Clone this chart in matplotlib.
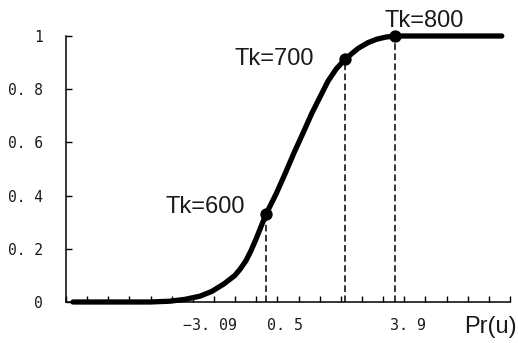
import matplotlib
matplotlib.use("Agg")
import matplotlib.pyplot as plt
from matplotlib.transforms import blended_transform_factory

# Cumulative curve, x in axis units (0..21, one minor tick per unit)
curve_x = [0.33, 3.97, 4.92, 5.63, 6.34, 6.90, 7.47, 7.99, 8.25, 8.51, 8.75,
           8.98, 9.46, 9.93, 10.35, 10.78, 11.21, 11.63, 12.01, 12.39, 12.77,
           13.19, 13.81, 14.28, 14.70, 15.13, 15.56, 20.61]
curve_y = [0.0, 0.0, 0.003, 0.01, 0.022, 0.04, 0.068, 0.10, 0.125, 0.155, 0.193,
           0.235, 0.33, 0.405, 0.48, 0.56, 0.635, 0.71, 0.77, 0.83, 0.875,
           0.912, 0.953, 0.975, 0.988, 0.996, 1.0, 1.0]

# Marked temperatures
point_labels = ["Tk=600", "Tk=700", "Tk=800"]
point_x = [9.46, 13.19, 15.56]
point_y = [0.33, 0.912, 1.0]

# Labels below the x axis
xlabel_texts = ["\u22123. 09", "0. 5", "3. 9"]
xlabel_pos = [6.81, 10.35, 16.19]

yticks = [0, 0.2, 0.4, 0.6, 0.8, 1.0]
ytick_labels = ["0", "0. 2", "0. 4", "0. 6", "0. 8", "1"]

W, H = 518, 343
fig = plt.figure(figsize=(W / 100, H / 100), dpi=100)
ax = fig.add_axes([66 / W, (H - 302) / H, (510 - 66) / W, (302 - 36) / H])

ax.set_xlim(0, 21)
ax.set_ylim(0, 1)

ax.plot(curve_x, curve_y, color="black", lw=3.8, solid_capstyle="round",
        solid_joinstyle="round", clip_on=False, zorder=3)
ax.scatter(point_x, point_y, s=62, color="black", zorder=4, clip_on=False)
for px, py in zip(point_x, point_y):
    ax.plot([px, px], [0, py], color="black", lw=1.1, ls=(0, (4.3, 2.3)),
            clip_on=False, zorder=2)

text_color = "#1a1a1a"
label_font = "Liberation Sans"
# text offsets (pixels) of each label's left/baseline from its point
label_offsets = [(-101, 1), (-110, -6), (-10, 9)]
for lab, px, py, off in zip(point_labels, point_x, point_y, label_offsets):
    ax.annotate(lab, xy=(px, py), xytext=off, textcoords="offset pixels",
                fontsize=17, family=label_font, color=text_color,
                ha="left", va="baseline", annotation_clip=False)

ax.spines["top"].set_visible(False)
ax.spines["right"].set_visible(False)
ax.spines["left"].set_linewidth(1.1)
ax.spines["bottom"].set_linewidth(1.1)

ax.set_yticks(yticks)
ax.set_yticklabels(ytick_labels, fontsize=10.5, family="DejaVu Sans Mono",
                   color=text_color)
ax.tick_params(axis="y", direction="in", length=4.5, width=1, pad=16.5)

ax.set_xticks(range(0, 22))
ax.set_xticklabels([])
ax.tick_params(axis="x", direction="in", length=4, width=1)

trans = blended_transform_factory(ax.transData, ax.transAxes)
for txt, xp in zip(xlabel_texts, xlabel_pos):
    ax.text(xp, -(325 - 302) / 266, txt, transform=trans, fontsize=10.8,
            family="DejaVu Sans Mono", color=text_color,
            ha="center", va="center")

fig.text(517 / W, 1 - 333 / H, "Pr(u)", fontsize=17, family=label_font,
         color=text_color, ha="right", va="baseline")

fig.savefig("out.png", dpi=100)
